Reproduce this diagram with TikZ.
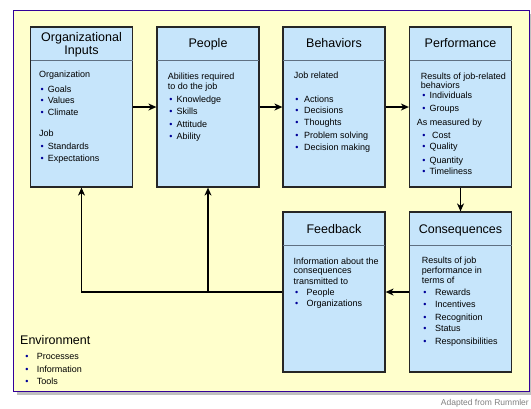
\documentclass[tikz,border=0pt]{standalone}
\usepackage{fontspec}
\setmainfont{Liberation Sans}
\usetikzlibrary{arrows.meta,positioning,calc}

\definecolor{envyellow}{HTML}{FFFFCC}
\definecolor{boxblue}{HTML}{C6E5FB}
\definecolor{rulegray}{HTML}{5F7082}
\definecolor{framepurple}{HTML}{330099}
\definecolor{dotblue}{HTML}{000099}
\definecolor{shadowgray}{HTML}{C0C0C0}
\newcommand{\bul}[1][4pt]{\hspace*{1.5pt}\textcolor{dotblue}{\textbullet}\hspace{#1}}

\begin{document}
\begin{tikzpicture}[x=1pt,y=-1pt,
	box/.style={draw=black!85, line width=1.2pt, fill=boxblue, minimum width=102pt, minimum height=160pt, inner sep=0pt},
	head/.style={font=\fontsize{12.5}{13.4}\selectfont, align=center, inner sep=0pt},
	body/.style={font=\fontsize{9}{11.5}\selectfont, align=left, anchor=north west, inner sep=0pt},
	flow/.style={line width=1.5pt, -{Stealth[length=8pt,width=7pt,inset=2.5pt]}}]
	\useasboundingbox (0,0) rectangle (531,408);
	% environment
	\fill[shadowgray] (17,14) rectangle (531,395);
	\draw[framepurple, fill=envyellow, line width=0.8pt] (13,10) rectangle (529,391);
	\node[anchor=base west, font=\fontsize{12.5}{13.4}\selectfont, inner sep=0pt] (envHead) at (20,344.5) {Environment};
	\node[body] (envList) at (23.6,353.6) {\bul[6pt] Processes\\[0.8pt]
		\bul[6pt] Information\\[0.8pt]
		\bul[6pt] Tools};
	\node[anchor=base east, font=\fontsize{8.5}{10}\selectfont, text=gray, inner sep=0pt] (credit) at (529,405.5) {Adapted from Rummler};

	% boxes
	\node[box] (inputs) at (81.5,107) {};
	\node[box] (people) at (208,107) {};
	\node[box] (behaviors) at (334,107) {};
	\node[box] (performance) at (460.5,107) {};
	\node[box] (feedback) at (334,292) {};
	\node[box] (consequences) at (460.5,292) {};
	\foreach \b in {inputs,people,behaviors,performance,feedback,consequences}
		\draw[rulegray, line width=1.8pt] ([xshift=0.6pt,yshift=-34pt]\b.north west) -- ([xshift=-0.6pt,yshift=-34pt]\b.north east);

	% headings
	\node[head] (inputsHead) at (81.5,44.8) {Organizational\\Inputs};
	\node[head, anchor=base] (peopleHead) at (208,47.5) {People};
	\node[head, anchor=base] (behaviorsHead) at (334,47.5) {Behaviors};
	\node[head, anchor=base] (performanceHead) at (460.5,47.5) {Performance};
	\node[head, anchor=base] (feedbackHead) at (334,233) {Feedback};
	\node[head, anchor=base] (consequencesHead) at (460.5,233) {Consequences};

	% contents
	\node[body] (inputsText) at (39,70.9) {Organization\\[2.9pt]
		\bul Goals\\
		\bul Values\\
		\bul Climate\\[9.5pt]
		Job\\[1.5pt]
		\bul Standards\\[1.2pt]
		\bul Expectations};
	\node[body] (peopleText) at (167.7,72.6) {Abilities required\\[-1.8pt]
		to do the job\\[2.1pt]
		\bul Knowledge\\[0.5pt]
		\bul Skills\\[1.2pt]
		\bul Attitude\\[0.5pt]
		\bul Ability};
	\node[body] (behaviorsText) at (293.7,71.9) {Job related\\[11.9pt]
		\bul[3pt] Actions\\[-0.5pt]
		\bul[3pt] Decisions\\[1.1pt]
		\bul[3pt] Thoughts\\[0.9pt]
		\bul[3pt] Problem solving\\[0.5pt]
		\bul[3pt] Decision making};
	\node[body] (performanceText) at (420.7,72.3) {Results of job-related\\[-2.1pt]
		behaviors\\[-1.1pt]
		\bul[1.5pt] Individuals\\[1.5pt]
		\bul[1.5pt] Groups\\[2.5pt]
		\hspace*{-4pt}As measured by\\[1.1pt]
		\bul[4pt] Cost\\[-0.1pt]
		\bul[1.5pt] Quality\\[1.8pt]
		\bul[1.5pt] Quantity\\[0.2pt]
		\bul[1.5pt] Timeliness};
	\node[body] (feedbackText) at (293.3,257.3) {Information about the\\[-1.9pt]
		consequences\\[-0.8pt]
		transmitted to\\[-0.8pt]
		\bul[6pt] People\\[0.1pt]
		\bul[6pt] Organizations};
	\node[body] (consequencesText) at (421.7,256.6) {Results of job\\[-1.2pt]
		performance in\\[-1.5pt]
		terms of\\[-0.1pt]
		\bul[6pt] Rewards\\[0.8pt]
		\bul[6pt] Incentives\\[1.2pt]
		\bul[6pt] Recognition\\[0.1pt]
		\bul[6pt] Status\\[0.9pt]
		\bul[6pt] Responsibilities};

	% connectors
	\draw[flow] (inputs.east) -- (people.west);
	\draw[flow] (people.east) -- (behaviors.west);
	\draw[flow] (behaviors.east) -- (performance.west);
	\draw[flow] (performance.south) -- (consequences.north);
	\draw[flow] (consequences.west) -- (feedback.east);
	\draw[flow] (feedback.west) -| (inputs.south);
	\coordinate (split) at (feedback.west -| people.south);
	\draw[flow] (split) -- (people.south);
\end{tikzpicture}
\end{document}
